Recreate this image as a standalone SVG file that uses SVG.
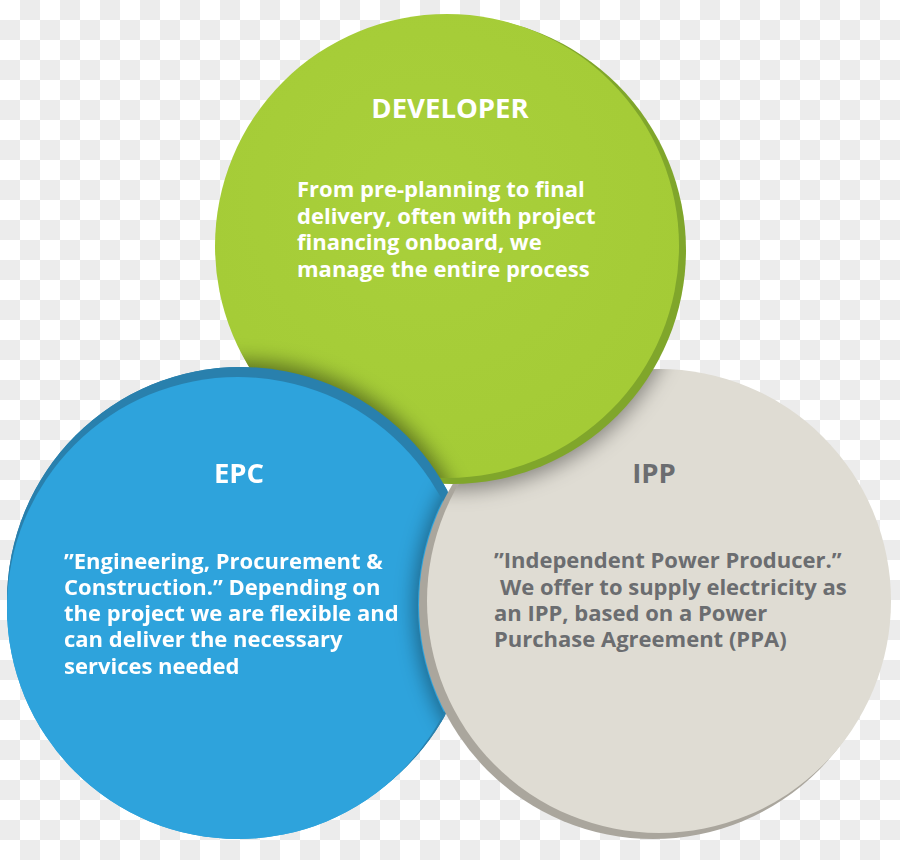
<svg xmlns="http://www.w3.org/2000/svg" xmlns:xlink="http://www.w3.org/1999/xlink" width="900" height="860" viewBox="0 0 900 860">
  <style>
    .title { font-family: "Open Sans", "Liberation Sans", sans-serif; font-weight: 700; font-size: 27.5px; text-anchor: middle; }
    .body { font-family: "Open Sans", "Liberation Sans", sans-serif; font-weight: 700; font-size: 22px; }
    .light { fill: #ffffff; }
    .dark { fill: #6b6d70; }
  </style>
  <defs>
    <pattern id="chk" width="40" height="40" patternUnits="userSpaceOnUse">
      <rect width="40" height="40" fill="#ffffff"/>
      <rect x="20" y="0" width="20" height="20" fill="#ececec"/>
      <rect x="0" y="20" width="20" height="20" fill="#ececec"/>
    </pattern>
    <filter id="blur" x="-20%" y="-20%" width="140%" height="140%">
      <feGaussianBlur stdDeviation="10"/>
    </filter>
    <radialGradient id="gGreen" cx="0.45" cy="0.4" r="0.6">
      <stop offset="0" stop-color="#a9d03b"/>
      <stop offset="1" stop-color="#a4cb36"/>
    </radialGradient>
    <clipPath id="clipBlue"><circle cx="238" cy="608" r="231"/></clipPath>
    <clipPath id="clipGray"><circle cx="659" cy="601" r="232"/></clipPath>
    <clipPath id="clipGreen"><circle cx="447" cy="246" r="232"/></clipPath>
    <mask id="maskNotGray" maskUnits="userSpaceOnUse" x="0" y="0" width="900" height="860">
      <rect width="900" height="860" fill="#fff"/>
      <circle cx="653" cy="605" r="235" fill="#000"/>
      <circle cx="659" cy="601" r="233" fill="#000"/>
    </mask>
    <g id="blueShape">
      <circle cx="241" cy="601" r="234" fill="#2980ad"/>
      <circle cx="238" cy="608" r="231" fill="#2ea3dc"/>
    </g>
  </defs>

  <rect width="900" height="860" fill="url(#chk)"/>

  <!-- EPC base (under IPP) -->
  <g id="epc-base">
    <use xlink:href="#blueShape"/>
  </g>

  <!-- IPP -->
  <g id="ipp">
    <circle cx="653" cy="605" r="234" fill="#aaa69d"/>
    <circle cx="659" cy="601" r="232" fill="#dfdcd3"/>
    <!-- shadow of DEVELOPER onto IPP -->
    <g clip-path="url(#clipGray)">
      <circle cx="452" cy="254" r="236" fill="#000" fill-opacity="0.4" filter="url(#blur)"/>
    </g>
    <text class="title dark" x="654" y="483">IPP</text>
    <text class="body dark">
      <tspan x="494" y="568">”Independent Power Producer.”</tspan>
      <tspan x="500" y="595">We offer to supply electricity as</tspan>
      <tspan x="494" y="621">an IPP, based on a Power</tspan>
      <tspan x="494" y="647">Purchase Agreement (PPA)</tspan>
    </text>
  </g>

  <!-- DEVELOPER -->
  <g id="developer">
    <circle cx="452" cy="250" r="234" fill="#80a62b"/>
    <circle cx="447" cy="246" r="232" fill="url(#gGreen)"/>
    <!-- shadow of EPC onto DEVELOPER -->
    <g clip-path="url(#clipGreen)">
      <circle cx="241" cy="598" r="237" fill="#000" fill-opacity="0.45" filter="url(#blur)"/>
    </g>
    <text class="title light" x="450" y="118">DEVELOPER</text>
    <text class="body light">
      <tspan x="297" y="197">From pre-planning to final</tspan>
      <tspan x="297" y="224">delivery, often with project</tspan>
      <tspan x="297" y="250">financing onboard, we</tspan>
      <tspan x="297" y="277">manage the entire process</tspan>
    </text>
  </g>

  <!-- EPC (over DEVELOPER, under IPP) -->
  <g id="epc" mask="url(#maskNotGray)">
    <use xlink:href="#blueShape"/>
    <!-- shadow of IPP onto EPC -->
    <g clip-path="url(#clipBlue)">
      <circle cx="652" cy="606" r="237" fill="#000" fill-opacity="0.4" filter="url(#blur)"/>
    </g>
    <text class="title light" x="239" y="483">EPC</text>
    <text class="body light">
      <tspan x="64" y="569">”Engineering, Procurement &amp;</tspan>
      <tspan x="64" y="595">Construction.” Depending on</tspan>
      <tspan x="64" y="621">the project we are flexible and</tspan>
      <tspan x="64" y="647">can deliver the necessary</tspan>
      <tspan x="64" y="674">services needed</tspan>
    </text>
  </g>
</svg>
